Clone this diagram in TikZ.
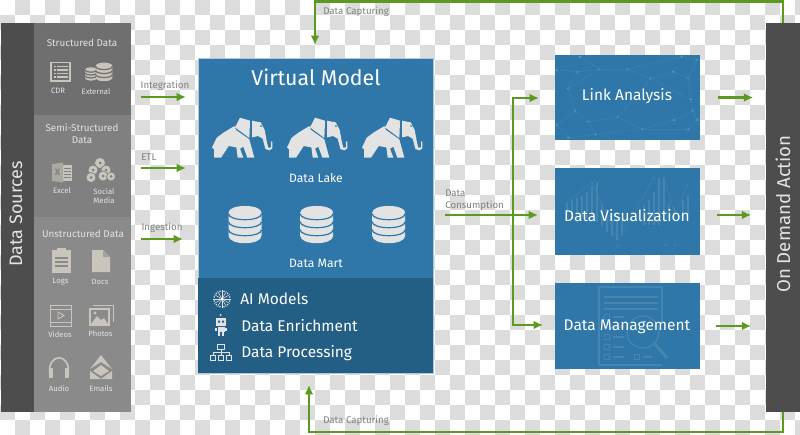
\documentclass[tikz,border=0pt]{standalone}
\usepackage{fontspec}
\setmainfont{Fira Sans}
\usetikzlibrary{arrows.meta,positioning}

\definecolor{chkgray}{HTML}{DCDCDC}
\definecolor{bardark}{HTML}{4D4D4D}
\definecolor{panelA}{HTML}{6F6F6F}
\definecolor{panelB}{HTML}{808080}
\definecolor{panelC}{HTML}{8A8A8A}
\definecolor{vmblue}{HTML}{2E77A8}
\definecolor{vmdark}{HTML}{235E85}
\definecolor{flowgreen}{HTML}{5B9A1F}
\definecolor{icongray}{HTML}{C9C5BD}
\definecolor{iconlight}{HTML}{E3E3E3}
\definecolor{ghostblue}{HTML}{4685B0}
\definecolor{ghostdot}{HTML}{5F98BE}
\definecolor{ghostline}{HTML}{4482AE}

\tikzset{
    panel/.style={fill=#1,minimum width=97*0.75pt,inner sep=0pt,outer sep=0pt},
    sidebar/.style={fill=bardark,minimum width=33.5*0.75pt,minimum height=389*0.75pt,
        inner sep=0pt,outer sep=0pt},
    bluebox/.style={fill=vmblue,minimum width=145*0.75pt,inner sep=0pt,outer sep=0pt},
    flow/.style={draw=flowgreen,line width=1.9pt,-{Latex[length=7pt,width=6.5pt]}},
    paneltext/.style={text=iconlight,font=\fontsize{7.4}{9}\selectfont,align=center,inner sep=0pt},
    icontext/.style={text=iconlight,font=\fontsize{5.8}{7}\selectfont,align=center,inner sep=0pt},
    flowtext/.style={text=gray,font=\fontsize{7.3}{9}\selectfont,align=left,inner sep=0pt},
    boxtext/.style={text=white,font=\fontsize{11.6}{14}\selectfont,inner sep=0pt},
    listtext/.style={text=white,font=\fontsize{11.6}{14}\selectfont,inner sep=0pt},
    vmtext/.style={text=white,font=\fontsize{9.1}{11}\selectfont,inner sep=0pt},
    % stack of discs, drawn round its centre
    pics/dbstack/.style={code={
        \fill[#1] (-16.5,-12) .. controls (-16.5,-21) and (16.5,-21) .. (16.5,-12)
            -- (16.5,11) .. controls (16.5,21) and (-16.5,21) .. (-16.5,11) -- cycle;
    }},
    pics/dbrings/.style={code={
        \foreach \y in {-11,-3,5} {
            \draw[#1,line width=0.9pt]
                (-16.5,\y) .. controls (-16.5,\y+8) and (16.5,\y+8) .. (16.5,\y);
        }
    }},
    % elephant, in 3x crop coordinates
    pics/elephant/.style={code={
        \begin{scope}[scale=0.3333,shift={(-65,-200)}]
            % body and legs
            \fill[iconlight] (66,292) -- (80,263) -- (100,248) -- (133,228) -- (138,240)
                -- (178,268) -- (193,323) -- (172,323) -- (160,290) -- (150,296)
                -- (160,323) -- (143,323) -- (139,292) -- (116,288) -- (93,323)
                -- (72,323) -- (72,298) -- cycle;
            % ear
            \fill[iconlight] (150,203) -- (180,212) -- (178,264) -- (135,232) -- cycle;
            % head and trunk
            \fill[iconlight] (186,212) -- (212,217) -- (224,240) -- (231,278) -- (235,293)
                -- (243,292) -- (243,274) -- (247,275) -- (247,295) -- (238,301)
                -- (226,297) -- (218,266) -- (204,258) -- (186,262) -- cycle;
            \fill[vmblue] (213,228) circle[radius=3];
        \end{scope}
    }},
}

\begin{document}
\begin{tikzpicture}[x=0.75pt,y=-0.75pt]

\useasboundingbox (0,0) rectangle (800,435);

% Checker squares behind everything.
\foreach \i in {0,...,53} {
    \foreach \j in {0,...,29} {
        \pgfmathtruncatemacro{\odd}{mod(\i+\j,2)}
        \ifnum\odd=1
            \fill[chkgray] (\i*15,\j*15) rectangle ++(15,15);
        \fi
    }
}

% Side bars.
\node[sidebar] (sourcebar) at (17.5,217.5) {};
\node[sidebar] (actionbar) at (783,217.5) {};
\node[text=iconlight,rotate=90,inner sep=0pt,font=\fontsize{13.5}{16}\selectfont]
    (sourcelabel) at (16,214) {Data Sources};
\node[text=iconlight,rotate=90,inner sep=0pt,font=\fontsize{14}{16}\selectfont]
    (actionlabel) at (783,214) {On Demand Action};

% Source panels, stacked.
\node[panel=panelA,minimum height=92*0.75pt,anchor=north west] (structpanel) at (34,23) {};
\node[panel=panelB,minimum height=102*0.75pt,below=0pt of structpanel] (semipanel) {};
\node[panel=panelC,minimum height=195*0.75pt,below=0pt of semipanel] (unstructpanel) {};

% Panel labels.
\node[paneltext] (structlabel) at (82,43) {Structured Data};
\node[paneltext] (semilabel) at (82,134) {Semi-Structured\\Data};
\node[paneltext] (unstructlabel) at (83,233.5) {Unstructured Data};
\foreach \n/\x/\y/\t in {cdr/58/91/CDR,external/96/92/External,excel/62/191/Excel,
    social/104/196/{Social\\Media},logs/60.5/282/Logs,docs/100/282/Docs,videos/60/335/Videos,
    photos/100.5/334/Photos,audio/59/389/Audio,emails/101/389/Emails} {
    \node[icontext] (\n) at (\x,\y) {\t};
}

% CDR list icon.
\draw[icongray,line width=0.9pt] (51,62.5) rectangle (70,81);
\foreach \y in {66.5,70,73.5,77} {
    \fill[icongray] (53.5,\y-0.8) rectangle ++(2,1.6);
    \fill[icongray] (57,\y-0.8) rectangle ++(11,1.6);
}
% External icon.
\pic[scale=0.36] at (91,74) {dbstack=icongray};
\pic[scale=0.36] at (91,74) {dbrings=panelA};
\pic[scale=0.5] at (104,72) {dbstack=icongray};
\pic[scale=0.5] at (104,72) {dbrings=panelA};
% Excel icon.
\fill[icongray] (60,165) rectangle (72,181);
\foreach \y in {168,171,174,177} {
    \draw[panelB,line width=0.6pt] (64,\y) -- (71,\y);
}
\fill[icongray!85!black] (52,164) -- (63,162.5) -- (63,182.5) -- (52,181) -- cycle;
\node[text=panelB,inner sep=0pt,font=\fontsize{7}{8}\bfseries\selectfont] (excelx) at (57.5,172.5) {X};
% Social media icon.
\foreach \x/\y/\r in {100/163/5.5,93/170/5,106/170/5,91/177.5/5,103/176/5,111/176.5/4.5} {
    \fill[icongray,draw=panelB,line width=0.5pt] (\x,\y) circle[radius=\r];
    \fill[panelB] (\x,\y) circle[radius=1.5];
}
% Logs icon.
\fill[icongray] (52,250) rectangle (71,273);
\fill[icongray] (57,248) rectangle (66,253);
\foreach \y in {258,262,266} {
    \draw[panelC,line width=0.8pt] (55,\y) -- (68,\y);
}
% Docs icon.
\fill[icongray] (92,250) -- (103,250) -- (110,257) -- (110,272) -- (92,272) -- cycle;
\fill[panelC!60!icongray] (103,250) -- (110,257) -- (103,257) -- cycle;
% Videos icon.
\draw[icongray,line width=0.7pt] (50,305) rectangle (71,326);
\draw[icongray,line width=0.7pt] (50,309) -- (71,309) (50,322) -- (71,322);
\draw[icongray,line width=0.7pt] (58,312) -- (64,315.5) -- (58,319) -- cycle;
% Photos icon.
\draw[icongray,line width=0.7pt] (93,305) -- (113,305) -- (113,322);
\fill[icongray] (89,308) rectangle (110,326);
\fill[panelC] (91,310) rectangle (108,324);
\fill[icongray] (91,324) -- (97,316) -- (101,320) -- (104,318) -- (108,324) -- cycle;
\fill[icongray] (95,313) circle[radius=1.6];
% Audio icon.
\draw[icongray,line width=1.3pt] (50,375) .. controls (46,352) and (72,352) .. (68,375);
\fill[icongray] (49,368) rectangle (53,378);
\fill[icongray] (65,368) rectangle (69,378);
% Emails icon.
\fill[icongray] (90,369) -- (101,355) -- (112,369) -- (101,362) -- cycle;
\fill[icongray] (90,371) -- (101,379) -- (112,371) -- (112,379) -- (90,379) -- cycle;
\fill[icongray] (93,371) -- (101,365) -- (109,371) -- (101,376) -- cycle;

% Virtual model box, with its darker lower part.
\node[fill=vmblue,draw=vmblue!40!white,line width=0.4pt,minimum width=235*0.75pt,
    minimum height=315*0.75pt,inner sep=0pt,outer sep=0pt,anchor=north west]
    (vmodel) at (198,58) {};
\node[fill=vmdark,minimum width=235*0.75pt,minimum height=95*0.75pt,inner sep=0pt,
    anchor=south west] (vmlower) at (vmodel.south west) {};

\node[text=white,inner sep=0pt,font=\fontsize{16}{18}\selectfont] (vmtitle) at (316,77.5) {Virtual Model};

% Data lake elephants and data mart stacks.
\foreach \x in {211.7,286.7,361.7} {
    \pic at (\x,116.7) {elephant};
}
\foreach \x in {245,316.7,388.7} {
    \pic at (\x,224.7) {dbstack=iconlight};
    \pic at (\x,224.7) {dbrings=vmblue};
}
\node[vmtext] (lakelabel) at (316,178) {Data Lake};
\node[vmtext] (martlabel) at (316,263) {Data Mart};

% Lower list.
\node[listtext,anchor=west] (aimodels) at (240,299) {AI Models};
\node[listtext,anchor=west] (enrichment) at (241,326) {Data Enrichment};
\node[listtext,anchor=west] (processing) at (241,353.5) {Data Processing};

% AI icon: rays and a ring of dots.
\foreach \a in {0,30,...,330} {
    \draw[iconlight,line width=0.4pt] (222,299) -- ++(\a:9);
    \fill[iconlight] (222,299) ++(\a+15:8) circle[radius=0.9];
}
\fill[white] (222,299) circle[radius=1.5];
% Robot icon.
\fill[iconlight] (216,318) rectangle (226,326);
\fill[vmdark] (218,320.5) rectangle ++(2,2) (222,320.5) rectangle ++(2,2);
\fill[iconlight] (220.5,315) circle[radius=1];
\fill[iconlight] (217.5,327) rectangle (224.5,332);
\draw[iconlight,line width=0.8pt] (219,332) -- (219,336) (223,332) -- (223,336)
    (216,327.5) -- (216,331) (226,327.5) -- (226,331);
% Hierarchy icon.
\draw[iconlight,line width=0.5pt] (217.5,344.5) rectangle (224.5,349.5);
\draw[iconlight,line width=0.5pt] (221,349.5) -- (221,352.5) (213,355.5) |- (229,352.5) -- (229,355.5)
    (221,352.5) -- (221,355.5);
\foreach \x in {213,221,229} {
    \draw[iconlight,line width=0.5pt] (\x-2.5,355.5) rectangle (\x+2.5,360);
}

% Link analysis box and its ghost network.
\node[bluebox,minimum height=85*0.75pt,anchor=north west] (linkbox) at (555,55) {};
\begin{scope}[shift={(440,40)},scale=0.3333]
    \foreach \x/\y in {350/90,412/95,477/88,562/88,700/95,745/115,632/115,385/145,752/178,
        405/213,758/213,445/245,533/232,702/240,772/240,350/255,607/268,745/268,385/293,
        467/283,420/50,725/50,770/60} {
        \fill[ghostdot] (\x,\y) circle[radius=4];
    }
    \draw[ghostline,line width=0.3pt] (350,90) -- (412,95) -- (477,88) -- (562,88) -- (632,115)
        -- (700,95) -- (745,115) -- (752,178) -- (758,213) -- (702,240) -- (607,268)
        -- (533,232) -- (445,245) -- (405,213) -- (385,145) -- (412,95)
        (385,145) -- (477,88) (562,88) -- (725,50) -- (770,60) -- (745,115)
        (445,245) -- (467,283) -- (607,268) -- (745,268) -- (772,240) -- (758,213)
        (350,255) -- (405,213) (350,255) -- (385,293) -- (467,283)
        (420,50) -- (477,88) (533,232) -- (632,115) -- (752,178);
\end{scope}
\node[boxtext] (linklabel) at (627,96) {Link Analysis};

% Visualization box and its ghost chart.
\node[bluebox,minimum height=87*0.75pt,anchor=north west] (visbox) at (555,168) {};
\foreach \x/\t/\b in {567/203/215,572/200/218,577/198/218,582/196/218,587/192/218,592/186/218,
    597/182/222,602/203/226,607/209/232,612/213/236,617/216/240,622/218/236,644/205/225,
    649/200/225,654/192/225,659/178/225,664/178/222,669/204/222,674/207/218,683/200/218,
    688/196/215} {
    \draw[ghostblue,line width=0.8pt] (\x,\t) -- (\x,\b);
}
\draw[ghostline,line width=0.35pt] (565,204) -- (592,182) -- (618,240) -- (654,178)
    -- (664,178) -- (675,215) -- (687,185);
\foreach \x/\y in {592/182,618/246,654/178,664/178,687/185,666/245,675/245} {
    \fill[ghostblue] (\x,\y) circle[radius=1.2];
}
\node[boxtext] (vislabel) at (627,216) {Data Visualization};

% Management box and its ghost document.
\node[bluebox,minimum height=86*0.75pt,anchor=north west] (mgmtbox) at (555,283) {};
\draw[ghostblue,line width=0.8pt] (662,322) -- (662,287) -- (599,287) -- (599,365) -- (662,365);
\foreach \y in {297,303,309} {
    \draw[ghostblue,line width=0.8pt] (604,\y) -- (658,\y);
}
\foreach \y in {317,327,337,347,357} {
    \draw[ghostblue,line width=0.7pt] (604.5,\y-2.5) rectangle ++(5,5);
    \draw[ghostblue,line width=0.8pt] (613,\y) -- (624,\y);
}
\draw[ghostblue,line width=0.7pt] (634.5,354.5) rectangle ++(5,5);
\draw[ghostblue,line width=0.8pt] (643,357) -- (652,357);
\draw[ghostblue,line width=1pt] (643,332) circle[radius=16];
\draw[ghostblue,line width=2.2pt] (655,344) -- (667,358);
\node[boxtext] (mgmtlabel) at (627,326.5) {Data Management};

% Free ends of the flow arrows.
\coordinate (integA) at (141,97);
\coordinate (integB) at (186,97);
\coordinate (etlA) at (141,168);
\coordinate (etlB) at (186,168);
\coordinate (ingestA) at (141,239);
\coordinate (ingestB) at (183,239);
\coordinate (consA) at (445,215);
\coordinate (branch) at (513,215);
\coordinate (linkin) at (539,98);
\coordinate (visin) at (538,215);
\coordinate (mgmtin) at (543,325);
\coordinate (captop) at (315,45);
\coordinate (capbot) at (309,385);

% Inputs.
\draw[flow] (integA) -- (integB);
\draw[flow] (etlA) -- (etlB);
\draw[flow] (ingestA) -- (ingestB);

% Data consumption, with its two branches.
\draw[flow] (consA) -- (visin);
\draw[flow] (branch) |- (linkin);
\draw[flow] (branch) |- (mgmtin);

% Outputs to on demand action.
\draw[flow,shorten <=18*0.75pt,shorten >=13*0.75pt] (linkbox.east) -- (linkbox.east -| actionbar.west);
\draw[flow,shorten <=17*0.75pt,shorten >=15*0.75pt] (700,215) coordinate (visout) -- (visout -| actionbar.west);
\draw[flow,shorten <=16*0.75pt,shorten >=15*0.75pt] (700,326) coordinate (mgmtout) -- (mgmtout -| actionbar.west);

% Data capturing loops.
\draw[flow] (actionbar.north) -- ++(0,-21.5) -| (captop);
\draw[flow] (actionbar.south) -- ++(0,20) -| (capbot);

% Flow labels.
\node[flowtext] (integlabel) at (165,85.5) {Integration};
\node[flowtext,anchor=west] (etllabel) at (141,157) {ETL};
\node[flowtext] (ingestlabel) at (162,228) {Ingestion};
\node[flowtext,anchor=west] (conslabel) at (445,200) {Data\\Consumption};
\node[flowtext,anchor=west] (captoplabel) at (323,12) {Data Capturing};
\node[flowtext,anchor=west] (capbotlabel) at (323,421) {Data Capturing};

\end{tikzpicture}
\end{document}
